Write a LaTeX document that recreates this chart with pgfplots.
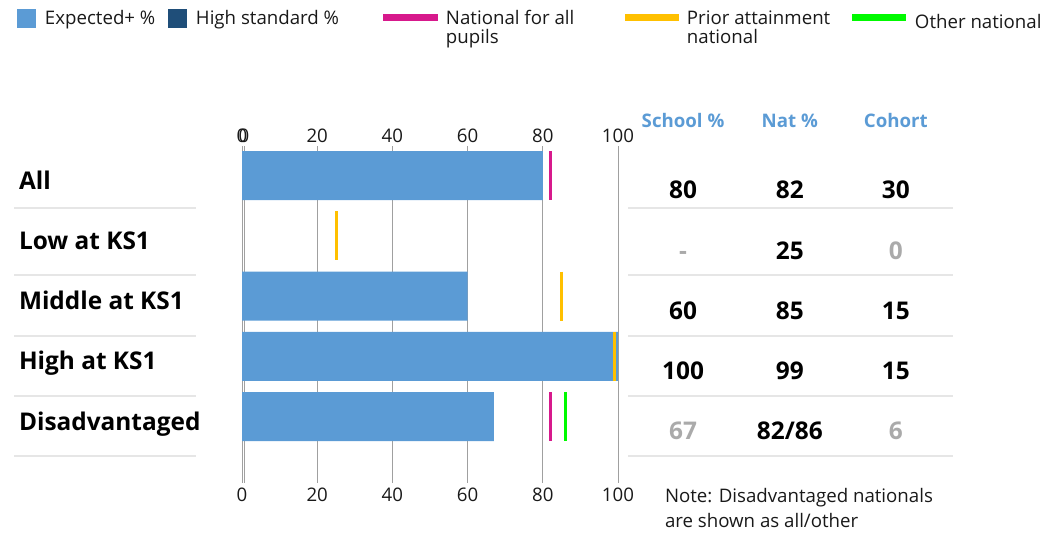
\documentclass[border=0pt]{standalone}
\usepackage{fontspec}
\setmainfont{Open Sans}
\usepackage{pgfplots}
\pgfplotsset{compat=1.18}
\definecolor{barblue}{RGB}{91,155,213}
\definecolor{darkblue}{RGB}{31,78,121}
\definecolor{natpink}{RGB}{215,25,140}
\definecolor{prior}{RGB}{255,192,0}
\definecolor{othergreen}{RGB}{0,250,0}
\definecolor{gridgray}{RGB}{160,160,160}
\definecolor{sepgray}{RGB}{230,230,230}
\definecolor{mutegray}{RGB}{170,170,170}
\definecolor{txt}{RGB}{25,25,25}
\newcommand{\bigb}{\fontsize{18.3}{21}\selectfont\bfseries}
\newcommand{\reg}{\fontsize{14}{16}\selectfont}
\newcommand{\lstrut}{\rule[-3pt]{0pt}{15pt}}
\pgfplotsset{
  base/.style={
    scale only axis, width=282pt, height=252.75pt,
    at={(181.5pt,-362.25pt)}, anchor=south west,
    xmin=0, xmax=100, ymin=-0.49, ymax=5.1, y dir=reverse,
    axis y line=none,
    axis line style={draw=none},
    every outer y axis line/.append style={draw=none},
    every outer x axis line/.append style={draw=none},
    major tick style={draw=none},
    ytick=\empty, xtick={0,20,40,60,80,100},
    tick label style={font=\reg, text=txt},
    /pgf/number format/assume math mode=true,
    clip=false,
  },
  topticks/.style={xticklabel pos=right, xticklabel style={yshift=-1pt}},
}
\tikzset{lab/.style={inner sep=0pt, outer sep=0pt}}
\begin{document}
\begin{tikzpicture}
\path[use as bounding box] (0pt,0pt) rectangle (783.75pt,-399pt);
% second, slightly shifted axis (doubled zero)
\begin{axis}[base, at={(183pt,-362.25pt)}, xtick={0}, topticks,
  xmajorgrids, grid style={gridgray, line width=0.75pt}]
\end{axis}
% top tick labels
\begin{axis}[base, topticks]
\end{axis}
% main axis
\begin{axis}[base, xmajorgrids, grid style={gridgray, line width=0.75pt},
  legend columns=5, legend cell align=left,
  legend style={at={(-0.5984,1.4095)}, anchor=north west, draw=none, fill=none,
    inner sep=0pt, outer sep=0pt, font=\reg, text=txt, column sep=0pt, row sep=0pt,
    nodes={inner sep=0pt, text depth={}}},
]
\addplot[xbar, bar width=36.75pt, fill=barblue, draw=none,
  legend image code/.code={\fill[barblue, draw=none] (0pt,-7.125pt) rectangle (14.25pt,7.125pt); \path[draw=none, fill=none] (0pt,-7.125pt) rectangle (21pt,7.125pt);}]
  coordinates {(80,0) (60,2) (100,3) (67,4)};
\addlegendentry{\makebox[92.25pt][l]{\lstrut Expected+ \%}}
\addlegendimage{legend image code/.code={\fill[darkblue, draw=none] (0pt,-7.125pt) rectangle (14.25pt,7.125pt); \path[draw=none, fill=none] (0pt,-7.125pt) rectangle (21pt,7.125pt);}}
\addlegendentry{\makebox[140.25pt][l]{\lstrut High standard \%}}
\addplot[only marks, mark=|, mark size=18.375pt, mark options={line width=2.25pt, draw=natpink},
  legend image code/.code={\fill[natpink, draw=none] (0pt,-1.875pt) rectangle (41.25pt,3.375pt); \path[draw=none, fill=none] (0pt,-7.125pt) rectangle (47.25pt,7.125pt);}]
  coordinates {(82,0) (82,4)};
\addlegendentry{\makebox[134.25pt][l]{\lstrut\rlap{\raisebox{-14.25pt}[0pt][0pt]{pupils}}National for all}}
\addplot[only marks, mark=|, mark size=18.375pt, mark options={line width=2.25pt, draw=prior},
  legend image code/.code={\fill[prior, draw=none] (0pt,-1.875pt) rectangle (40.5pt,3.375pt); \path[draw=none, fill=none] (0pt,-7.125pt) rectangle (46.5pt,7.125pt);}]
  coordinates {(25,1) (85,2) (99,3)};
\addlegendentry{\makebox[123.75pt][l]{\lstrut\rlap{\raisebox{-14.25pt}[0pt][0pt]{national}}Prior attainment}}
\addplot[only marks, mark=|, mark size=18.375pt, mark options={line width=2.25pt, draw=othergreen},
  legend image code/.code={\fill[othergreen, draw=none] (0pt,-1.875pt) rectangle (40.5pt,3.375pt); \path[draw=none, fill=none] (0pt,-7.125pt) rectangle (47.25pt,7.125pt);}]
  coordinates {(86,4)};
\addlegendentry{\raisebox{-3.5pt}[12pt][3pt]{Other national}}

% separators
\draw[sepgray, line width=1.5pt] (axis cs:-60.64,0.539) -- (axis cs:-12.23,0.539);
\draw[sepgray, line width=1.5pt] (axis cs:-60.64,1.651) -- (axis cs:-12.23,1.651);
\draw[sepgray, line width=1.5pt] (axis cs:-60.64,2.664) -- (axis cs:-12.23,2.664);
\draw[sepgray, line width=1.5pt] (axis cs:-60.64,3.66) -- (axis cs:-12.23,3.66);
\draw[sepgray, line width=1.5pt] (axis cs:-60.64,4.656) -- (axis cs:-12.23,4.656);
\draw[sepgray, line width=1.5pt] (axis cs:102.66,0.539) -- (axis cs:189.1,0.539);
\draw[sepgray, line width=1.5pt] (axis cs:102.66,1.651) -- (axis cs:189.1,1.651);
\draw[sepgray, line width=1.5pt] (axis cs:102.66,2.664) -- (axis cs:189.1,2.664);
\draw[sepgray, line width=1.5pt] (axis cs:102.66,3.66) -- (axis cs:189.1,3.66);
\draw[sepgray, line width=1.5pt] (axis cs:102.66,4.656) -- (axis cs:189.1,4.656);

% row labels
\node[lab, anchor=base west, font=\bigb, text=black] at (axis cs:-59.3,0.225) {All};
\node[lab, anchor=base west, font=\bigb, text=black] at (axis cs:-59.3,1.225) {Low at KS1};
\node[lab, anchor=base west, font=\bigb, text=black] at (axis cs:-59.3,2.225) {Middle at KS1};
\node[lab, anchor=base west, font=\bigb, text=black] at (axis cs:-59.3,3.225) {High at KS1};
\node[lab, anchor=base west, font=\bigb, text=black] at (axis cs:-59.3,4.225) {Disadvantaged};

% table headers
\node[lab, anchor=base, font=\reg\bfseries, text=barblue] at (axis cs:117.3,-0.8) {School \%};
\node[lab, anchor=base, font=\reg\bfseries, text=barblue] at (axis cs:145.7,-0.8) {Nat \%};
\node[lab, anchor=base, font=\reg\bfseries, text=barblue] at (axis cs:173.9,-0.8) {Cohort};

% table values
\node[lab, anchor=base, font=\bigb, text=black] at (axis cs:117.3,0.385) {80};
\node[lab, anchor=base, font=\bigb, text=black] at (axis cs:145.7,0.385) {82};
\node[lab, anchor=base, font=\bigb, text=black] at (axis cs:173.9,0.385) {30};
\node[lab, anchor=base, font=\bigb, text=mutegray] at (axis cs:117.3,1.385) {-};
\node[lab, anchor=base, font=\bigb, text=black] at (axis cs:145.7,1.385) {25};
\node[lab, anchor=base, font=\bigb, text=mutegray] at (axis cs:173.9,1.385) {0};
\node[lab, anchor=base, font=\bigb, text=black] at (axis cs:117.3,2.385) {60};
\node[lab, anchor=base, font=\bigb, text=black] at (axis cs:145.7,2.385) {85};
\node[lab, anchor=base, font=\bigb, text=black] at (axis cs:173.9,2.385) {15};
\node[lab, anchor=base, font=\bigb, text=black] at (axis cs:117.3,3.385) {100};
\node[lab, anchor=base, font=\bigb, text=black] at (axis cs:145.7,3.385) {99};
\node[lab, anchor=base, font=\bigb, text=black] at (axis cs:173.9,3.385) {15};
\node[lab, anchor=base, font=\bigb, text=mutegray] at (axis cs:117.3,4.385) {67};
\node[lab, anchor=base, font=\bigb, text=black] at (axis cs:145.7,4.385) {82/86};
\node[lab, anchor=base, font=\bigb, text=mutegray] at (axis cs:173.9,4.385) {6};

% note
\node[lab, anchor=base west, font=\reg, text=txt] at (axis cs:112.5,5.42) {Note: Disadvantaged nationals};
\node[lab, anchor=base west, font=\reg, text=txt] at (axis cs:112.5,5.83) {are shown as all/other};
\end{axis}
\end{tikzpicture}
\end{document}
